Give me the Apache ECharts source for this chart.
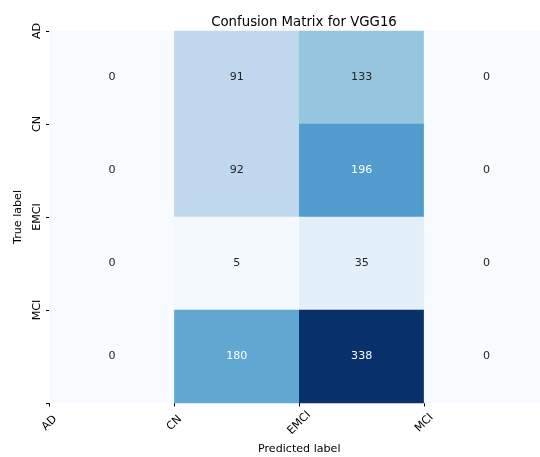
<!DOCTYPE html>
<html>
<head>
<meta charset="utf-8">
<script src="https://cdn.jsdelivr.net/npm/echarts@6/dist/echarts.min.js"></script>
<style>
  html, body { margin: 0; padding: 0; background: #fff; }
  #chart { width: 540px; height: 457px; }
</style>
</head>
<body>
<div id="chart"></div>
<script>
var classes = ['AD', 'CN', 'EMCI', 'MCI'];
// rows = true label, cols = predicted label
var rowAD   = [0, 91, 133, 0];
var rowCN   = [0, 92, 196, 0];
var rowEMCI = [0, 5, 35, 0];
var rowMCI  = [0, 180, 338, 0];
var matrix = [rowAD, rowCN, rowEMCI, rowMCI];

var blues = ['#f7fbff', '#deebf7', '#c6dbef', '#9ecae1', '#6baed6',
             '#4292c6', '#2171b5', '#08519c', '#08306b'];
var font = 'DejaVu Sans';

var data = [];
var vmax = 0;
for (var r = 0; r < matrix.length; r++) {
  for (var c = 0; c < matrix[r].length; c++) {
    var v = matrix[r][c];
    if (v > vmax) vmax = v;
    data.push({
      value: [c, r, v],
      label: { color: v > 150 ? '#ffffff' : '#262626' }
    });
  }
}

var chart = echarts.init(document.getElementById('chart'));
var option = {
  animation: false,
  title: {
    text: 'Confusion Matrix for VGG16',
    left: 299,
    top: 11,
    textAlign: 'center',
    textStyle: { fontFamily: font, fontSize: 13.3, fontWeight: 'normal', color: '#000' }
  },
  grid: {
    left: 49.5, width: 499.5, top: 31, height: 372,
    containLabel: false,
    outerBoundsMode: 'none'
  },
  visualMap: {
    show: false,
    min: 0,
    max: vmax,
    dimension: 2,
    inRange: { color: blues }
  },
  xAxis: [{
    type: 'category',
    data: classes,
    show: false
  }, {
    type: 'value',
    min: 0, max: 4, interval: 1,
    position: 'bottom',
    name: 'Predicted label',
    nameLocation: 'middle',
    nameGap: 37,
    nameTextStyle: { fontFamily: font, fontSize: 11.1, color: '#000' },
    splitLine: { show: false },
    axisLine: { show: false },
    axisTick: { show: true, length: 3.5, lineStyle: { color: '#000' } },
    axisLabel: {
      rotate: 45,
      margin: 20,
      align: 'center',
      verticalAlign: 'middle',
      fontFamily: font, fontSize: 11.1, color: '#000',
      formatter: function (v) { return classes[v] || ''; }
    }
  }],
  yAxis: [{
    type: 'category',
    data: classes,
    inverse: true,
    show: false
  }, {
    type: 'value',
    min: 0, max: 4, interval: 1,
    inverse: true,
    position: 'left',
    name: 'True label',
    nameLocation: 'middle',
    nameGap: 22,
    nameTextStyle: { fontFamily: font, fontSize: 11.1, color: '#000' },
    splitLine: { show: false },
    axisLine: { show: false },
    axisTick: { show: true, length: 3.5, lineStyle: { color: '#000' } },
    axisLabel: {
      rotate: 90,
      margin: 7,
      align: 'center',
      verticalAlign: 'bottom',
      fontFamily: font, fontSize: 11.1, color: '#000',
      formatter: function (v) { return classes[v] || ''; }
    }
  }],
  series: [{
    type: 'heatmap',
    xAxisIndex: 0,
    yAxisIndex: 0,
    data: data,
    label: { show: true, fontFamily: font, fontSize: 11.1 },
    itemStyle: { borderWidth: 0 },
    emphasis: { disabled: true }
  }]
};
chart.setOption(option);
</script>
</body>
</html>
